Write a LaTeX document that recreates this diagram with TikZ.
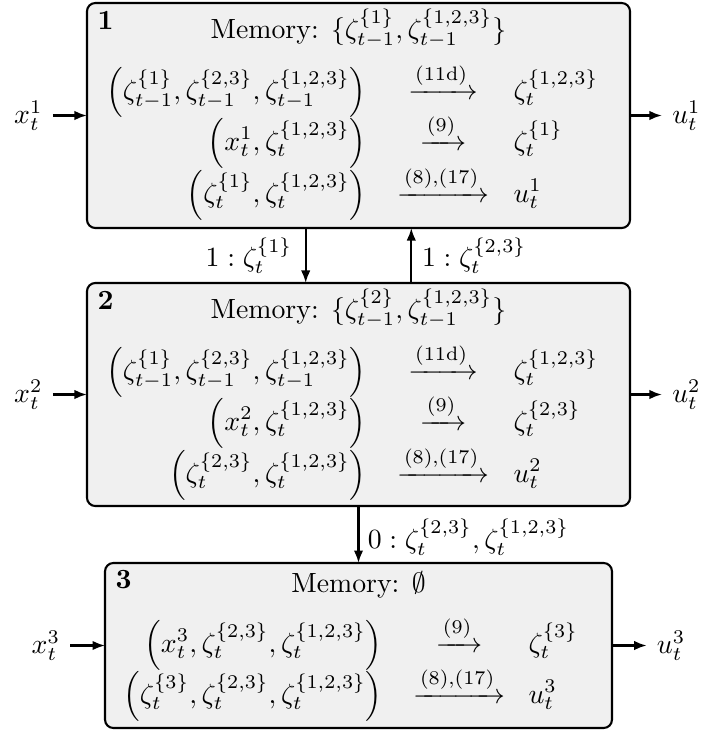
\documentclass[tikz,border=0pt]{standalone}
\usepackage{amsmath,amssymb}
\usetikzlibrary{arrows.meta}
\begin{document}
\begin{tikzpicture}[x=0.36pt,y=-0.36pt]
\tikzset{
 blk/.style={draw, line width=0.75pt, fill=black!6, rounded corners=3pt, inner sep=0pt, outer sep=0pt},
 num/.style={anchor=base west, inner sep=0pt, font=\bfseries},
 mem/.style={anchor=base, inner sep=0pt},
 tup/.style={anchor=base east, inner sep=0pt},
 arr/.style={anchor=base, inner sep=0pt},
 outp/.style={anchor=base west, inner sep=0pt},
 conn/.style={line width=0.75pt, -{Latex[length=4.5pt,width=3.4pt]}},
 inl/.style={inner sep=3.5pt, anchor=east},
 outl/.style={inner sep=3.5pt, anchor=west},
}
\useasboundingbox (0,0) rectangle (726,730);
% boxes
\node[blk, minimum width=195.5pt, minimum height=81pt] (b1) at (358.5,115.5) {};
\node[blk, minimum width=195.5pt, minimum height=80.3pt] (b2) at (358.5,394.5) {};
\node[blk, minimum width=182.5pt, minimum height=59.4pt] (b3) at (358.5,645.5) {};
% numbers
\node[num] (n1) at (97,29) {1};
\node[num] (n2) at (97,309) {2};
\node[num] (n3) at (115,588) {3};
% memory
\node[mem] (m1) at (358.5,38) {Memory: $\{\zeta_{t-1}^{\{1\}},\zeta_{t-1}^{\{1,2,3\}}\}$};
\node[mem] (m2) at (358.5,318) {Memory: $\{\zeta_{t-1}^{\{2\}},\zeta_{t-1}^{\{1,2,3\}}\}$};
\node[mem] (m3) at (358.5,592) {Memory: $\emptyset$};
% box 1 rows
\node[tup] (t11) at (367,99) {$\left(\zeta_{t-1}^{\{1\}},\zeta_{t-1}^{\{2,3\}},\zeta_{t-1}^{\{1,2,3\}}\right)$};
\node[arr] (a11) at (443,99) {$\xrightarrow{\text{(11d)}}$};
\node[outp] (o11) at (513,99) {$\zeta_t^{\{1,2,3\}}$};
\node[tup] (t12) at (367,150) {$\left(x_t^1,\zeta_t^{\{1,2,3\}}\right)$};
\node[arr] (a12) at (443,150) {$\xrightarrow{\text{(9)}}$};
\node[outp] (o12) at (513,150) {$\zeta_t^{\{1\}}$};
\node[tup] (t13) at (367,202) {$\left(\zeta_t^{\{1\}},\zeta_t^{\{1,2,3\}}\right)$};
\node[arr] (a13) at (443,202) {$\xrightarrow{\text{(8),(17)}}$};
\node[outp] (o13) at (513,202) {$u_t^1$};
% box 2 rows
\node[tup] (t21) at (367,379) {$\left(\zeta_{t-1}^{\{1\}},\zeta_{t-1}^{\{2,3\}},\zeta_{t-1}^{\{1,2,3\}}\right)$};
\node[arr] (a21) at (443,379) {$\xrightarrow{\text{(11d)}}$};
\node[outp] (o21) at (513,379) {$\zeta_t^{\{1,2,3\}}$};
\node[tup] (t22) at (367,430) {$\left(x_t^2,\zeta_t^{\{1,2,3\}}\right)$};
\node[arr] (a22) at (443,430) {$\xrightarrow{\text{(9)}}$};
\node[outp] (o22) at (513,430) {$\zeta_t^{\{2,3\}}$};
\node[tup] (t23) at (367,482) {$\left(\zeta_t^{\{2,3\}},\zeta_t^{\{1,2,3\}}\right)$};
\node[arr] (a23) at (443,482) {$\xrightarrow{\text{(8),(17)}}$};
\node[outp] (o23) at (513,482) {$u_t^2$};
% box 3 rows
\node[tup] (t31) at (383,652) {$\left(x_t^3,\zeta_t^{\{2,3\}},\zeta_t^{\{1,2,3\}}\right)$};
\node[arr] (a31) at (459,652) {$\xrightarrow{\text{(9)}}$};
\node[outp] (o31) at (528,652) {$\zeta_t^{\{3\}}$};
\node[tup] (t32) at (383,703) {$\left(\zeta_t^{\{3\}},\zeta_t^{\{2,3\}},\zeta_t^{\{1,2,3\}}\right)$};
\node[arr] (a32) at (459,703) {$\xrightarrow{\text{(8),(17)}}$};
\node[outp] (o32) at (528,703) {$u_t^3$};
% inputs / outputs
\node[inl] (x1) at ([xshift=-12.3pt]b1.west) {$x_t^1$};
\node[inl] (x2) at ([xshift=-12.3pt]b2.west) {$x_t^2$};
\node[inl] (x3) at ([xshift=-12.5pt]b3.west) {$x_t^3$};
\node[outl] (u1) at ([xshift=11.5pt]b1.east) {$u_t^1$};
\node[outl] (u2) at ([xshift=11.5pt]b2.east) {$u_t^2$};
\node[outl] (u3) at ([xshift=12.5pt]b3.east) {$u_t^3$};
\draw[conn] (x1) -- (b1);
\draw[conn] (x2) -- (b2);
\draw[conn] (x3) -- (b3);
\draw[conn] (b1) -- (u1);
\draw[conn] (b2) -- (u2);
\draw[conn] (b3) -- (u3);
% vertical links
\draw[conn] ([xshift=-19pt]b1.south) -- ([xshift=-19pt]b2.north)
  node[midway, left, inner sep=4.5pt] (l1) {$1:\zeta_t^{\{1\}}$};
\draw[conn] ([xshift=19pt]b2.north) -- ([xshift=19pt]b1.south)
  node[midway, right, inner sep=3.5pt] (l2) {$1:\zeta_t^{\{2,3\}}$};
\draw[conn] (b2.south) -- (b3.north)
  node[midway, right, inner sep=3pt, yshift=-1pt] (l3) {$0:\zeta_t^{\{2,3\}},\zeta_t^{\{1,2,3\}}$};
\end{tikzpicture}
\end{document}
